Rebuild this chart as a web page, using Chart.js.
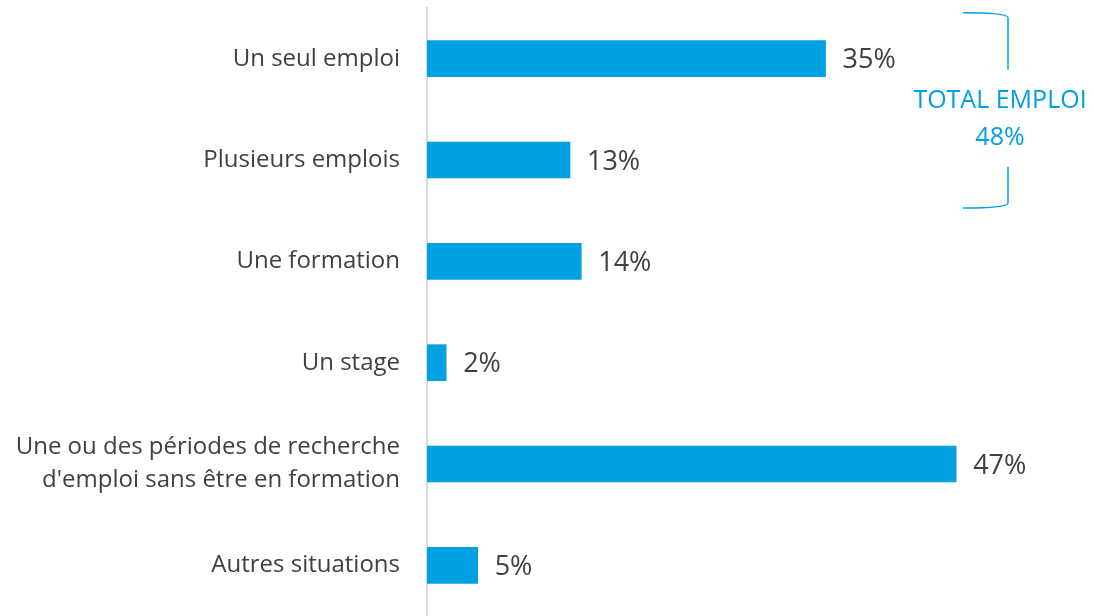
<!DOCTYPE html>
<html>
<head>
<meta charset="utf-8">
<script src="https://cdn.jsdelivr.net/npm/chart.js@4"></script>
<style>
    html, body { margin: 0; padding: 0; background: #fff; }
    #wrap { width: 1094px; height: 616px; position: relative; }
</style>
</head>
<body>
<div id="wrap"><canvas id="chart"></canvas></div>
<script>
// ================= DATA =================
const categories = [
    "Un seul emploi",
    "Plusieurs emplois",
    "Une formation",
    "Un stage",
    ["Une ou des périodes de recherche", "d'emploi sans être en formation"],
    "Autres situations"
];
const shares = [35.4, 12.7, 13.7, 1.7, 47.0, 4.5];
const shareLabels = ["35%", "13%", "14%", "2%", "47%", "5%"];
const bracketLabels = ["TOTAL EMPLOI", "48%"];

const BLUE = "#00A0E2";
const TEXT = "#404040";
const FONT = "'Open Sans', 'Noto Sans', sans-serif";

// ================= PLUGINS =================
const valueLabels = {
    id: "valueLabels",
    afterDatasetsDraw(chart) {
        const ctx = chart.ctx;
        const meta = chart.getDatasetMeta(0);
        ctx.save();
        ctx.font = "27px " + FONT;
        ctx.fillStyle = TEXT;
        ctx.textAlign = "left";
        ctx.textBaseline = "middle";
        meta.data.forEach((bar, i) => {
            ctx.fillText(shareLabels[i], bar.x + 17, bar.y + 2);
        });
        ctx.restore();
    }
};

const totalBracket = {
    id: "totalBracket",
    afterDraw(chart) {
        const ctx = chart.ctx;
        const y = chart.scales.y;
        const top = y.getPixelForValue(0) - 46;
        const bottom = y.getPixelForValue(1) + 48;
        const xr = 1008, xl = 963;
        const mid = (top + bottom) / 2;

        ctx.save();
        ctx.strokeStyle = BLUE;
        ctx.lineWidth = 1.5;
        ctx.beginPath();
        ctx.moveTo(xl, top);
        ctx.quadraticCurveTo(xr, top, xr, top + 5);
        ctx.lineTo(xr, top + 57);
        ctx.moveTo(xr, bottom - 41);
        ctx.lineTo(xr, bottom - 5);
        ctx.quadraticCurveTo(xr, bottom, xl, bottom);
        ctx.stroke();

        ctx.font = "25px " + FONT;
        ctx.fillStyle = BLUE;
        ctx.textAlign = "center";
        ctx.textBaseline = "middle";
        ctx.fillText(bracketLabels[0], 1000, mid - 9);
        ctx.fillText(bracketLabels[1], 1000, mid + 28);
        ctx.restore();
    }
};

// ================= CHART =================
new Chart(document.getElementById("chart"), {
    type: "bar",
    data: {
        labels: categories,
        datasets: [{
            data: shares,
            backgroundColor: BLUE,
            borderWidth: 0,
            barThickness: 36
        }]
    },
    options: {
        indexAxis: "y",
        responsive: true,
        maintainAspectRatio: false,
        animation: false,
        layout: { padding: { top: 8, right: 14, bottom: 0, left: 0 } },
        plugins: {
            legend: { display: false },
            tooltip: { enabled: false }
        },
        scales: {
            x: {
                display: false,
                min: 0,
                max: 58
            },
            y: {
                afterFit(scale) {
                    scale.width = 427;
                    scale.paddingTop = 0;
                    scale.paddingBottom = 0;
                },
                grid: { display: false, drawTicks: false },
                border: { display: true, color: "#d9d9d9", width: 2 },
                ticks: {
                    color: TEXT,
                    padding: 27,
                    font: { family: FONT, size: 24, lineHeight: 1.375 }
                }
            }
        }
    },
    plugins: [valueLabels, totalBracket]
});
</script>
</body>
</html>
